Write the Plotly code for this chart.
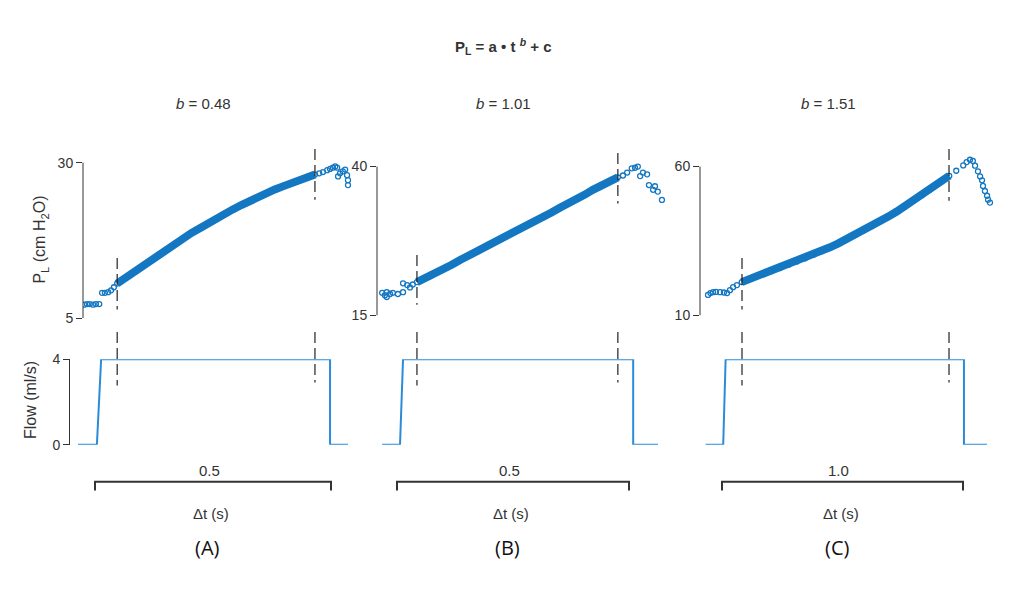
import plotly.graph_objects as go

W, H = 1011, 591

# ---------------- data ----------------
# Panel A (b = 0.48): time (s) and P_L (cm H2O)
a_pre_t = [-0.023, -0.017, -0.011, -0.004, 0.002, 0.009, 0.015, 0.021, 0.028, 0.034, 0.040]
a_pre_p = [7.2, 7.3, 7.3, 7.2, 7.3, 7.3, 9.1, 9.1, 9.2, 9.5, 10.0]
a_fit_t = [0.047, 0.064, 0.081, 0.099, 0.117, 0.135, 0.153, 0.170, 0.186, 0.204, 0.223, 0.240,
           0.259, 0.276, 0.292, 0.310, 0.328, 0.346, 0.364, 0.381, 0.398, 0.416, 0.434, 0.450, 0.466]
a_fit_p = [10.6, 11.5, 12.4, 13.3, 14.2, 15.2, 16.1, 17.0, 17.8, 18.7, 19.5, 20.3,
           21.1, 21.8, 22.5, 23.2, 23.9, 24.5, 25.1, 25.7, 26.2, 26.7, 27.2, 27.7, 28.1]
a_post_t = [0.475, 0.483, 0.492, 0.498, 0.504, 0.509, 0.513, 0.515, 0.519, 0.525, 0.530, 0.534, 0.536, 0.536]
a_post_p = [28.3, 28.5, 28.8, 29.0, 29.2, 29.4, 29.2, 27.8, 28.3, 28.6, 28.9, 28.0, 27.2, 26.4]

# Panel B (b = 1.01)
b_pre_t = [-0.032, -0.026, -0.022, -0.022, -0.015, -0.009, 0.002, 0.013, 0.013, 0.022, 0.028, 0.034]
b_pre_p = [18.8, 18.4, 18.9, 18.1, 18.6, 18.8, 18.6, 18.9, 20.4, 20.1, 19.7, 20.2]
b_fit_t = [0.043, 0.071, 0.099, 0.118, 0.136, 0.154, 0.172, 0.190, 0.207, 0.226, 0.244, 0.262,
           0.280, 0.298, 0.315, 0.333, 0.351, 0.370, 0.388, 0.405, 0.422, 0.440, 0.459, 0.476]
b_fit_p = [20.6, 21.6, 22.7, 23.5, 24.3, 25.0, 25.7, 26.5, 27.2, 27.9, 28.7, 29.4,
           30.2, 30.9, 31.6, 32.3, 33.1, 33.8, 34.6, 35.3, 36.1, 36.8, 37.6, 38.2]
b_post_t = [0.487, 0.496, 0.506, 0.513, 0.519, 0.524, 0.530, 0.539, 0.543, 0.552, 0.556, 0.562, 0.571]
b_post_p = [38.5, 39.0, 39.7, 39.8, 40.0, 38.4, 39.0, 38.7, 36.9, 36.1, 36.7, 35.8, 34.4]

# Panel C (b = 1.51)
c_pre_t = [-0.058, -0.048, -0.037, -0.025, -0.008, 0.008, 0.021, 0.033, 0.046, 0.062]
c_pre_p = [16.9, 17.5, 17.8, 17.9, 17.8, 17.7, 17.5, 18.5, 19.5, 20.2]
c_fit_t = [0.082, 0.127, 0.171, 0.206, 0.241, 0.276, 0.310, 0.345, 0.379, 0.414, 0.448, 0.483,
           0.517, 0.552, 0.586, 0.621, 0.656, 0.690, 0.725, 0.760, 0.794, 0.829, 0.863, 0.903, 0.943]
c_fit_p = [21.2, 22.6, 23.9, 24.9, 25.9, 27.0, 28.1, 29.2, 30.4, 31.6, 32.9, 34.2,
           35.6, 37.0, 38.5, 40.0, 41.6, 43.2, 44.9, 46.7, 48.5, 50.4, 52.3, 54.6, 56.9]
c_post_t = [0.972, 1.001, 1.015, 1.029, 1.041, 1.050, 1.062, 1.071, 1.079, 1.083, 1.091, 1.100, 1.104, 1.112]
c_post_p = [58.6, 60.4, 61.5, 62.3, 61.9, 60.3, 58.4, 56.7, 55.4, 53.5, 51.8, 50.2, 48.9, 47.9]

# Flow traces (ml/s)
a_flow_t = [-0.036, 0.004, 0.013, 0.498, 0.498, 0.536]
b_flow_t = [-0.032, 0.0065, 0.013, 0.509, 0.509, 0.5625]
c_flow_t = [-0.068, 0.005, 0.015, 1.004, 1.004, 1.100]
flow_v = [0, 0, 4, 4, 0, 0]

# Fit window boundaries (s)
fit_windows = [(0.047, 0.466), (0.043, 0.476), (0.083, 0.942)]
# Time scale bars
scale_len = [0.5, 0.5, 1.0]
scale_lbl = ["0.5", "0.5", "1.0"]
b_values = ["0.48", "1.01", "1.51"]
panel_lbl = ["(A)", "(B)", "(C)"]
p_ticks = [[5, 30], [15, 40], [10, 60]]
flow_ticks = [0, 4]

# ---------------- styling ----------------
BLUE = "#1477c2"
FLOW = "#2b8bd8"
INK = "#333333"
FONT = "Liberation Sans, Arial, sans-serif"


def px(x):
    return x / W


def py(y):
    return 1 - y / H


fig = go.Figure()

panels = [
    (a_pre_t, a_pre_p, a_fit_t, a_fit_p, a_post_t, a_post_p, a_flow_t),
    (b_pre_t, b_pre_p, b_fit_t, b_fit_p, b_post_t, b_post_p, b_flow_t),
    (c_pre_t, c_pre_p, c_fit_t, c_fit_p, c_post_t, c_post_p, c_flow_t),
]

mk = dict(symbol="circle-open", size=5, color=BLUE, line=dict(width=1.3, color=BLUE))

for i, (pt, pp, ft, fp, ot, op, flt) in enumerate(panels):
    xa, ya = f"x{i+1}", f"y{i+1}"
    xf, yf = f"x{i+4}", f"y{i+4}"
    fig.add_trace(go.Scatter(x=ft, y=fp, mode="lines", line=dict(color=BLUE, width=8),
                             xaxis=xa, yaxis=ya, hoverinfo="skip"))
    for tt, pp_ in ((pt, pp), (ft, fp), (ot, op)):
        fig.add_trace(go.Scatter(x=tt, y=pp_, mode="markers", marker=mk,
                                 xaxis=xa, yaxis=ya))
    fig.add_trace(go.Scatter(x=flt, y=flow_v, mode="lines", line=dict(color=FLOW, width=2),
                             xaxis=xf, yaxis=yf, cliponaxis=False))

# axis geometry in pixels: (left, right, top-of-axis-line, bottom, headroom in data units)
top_geom = [(83, 355, 159, 319, 3.0), (377, 670, 163, 316, 3.0), (700, 1000, 163, 316, 6.0)]
t0_px = [95, 397, 722]
px_per_s = [472, 464, 241]
flow_left = [70, 377, 700]
flow_y = (361, 449)

layout = dict(width=W, height=H, margin=dict(l=0, r=0, t=0, b=0),
              paper_bgcolor="white", plot_bgcolor="white", showlegend=False,
              font=dict(family=FONT, color=INK))

shapes = []
for i, (x0, x1, y0, y1, head) in enumerate(top_geom):
    yr = p_ticks[i]
    ppu = (y1 - y0) / (yr[1] - yr[0])
    ytop_px = y0 - head * ppu
    rng = [(x0 - t0_px[i]) / px_per_s[i], (x1 - t0_px[i]) / px_per_s[i]]
    layout[f"xaxis{i+1}"] = dict(domain=[px(x0), px(x1)], range=rng, visible=False,
                                 anchor=f"y{i+1}")
    layout[f"yaxis{i+1}"] = dict(domain=[py(y1), py(ytop_px)], range=[yr[0], yr[1] + head],
                                 anchor=f"x{i+1}", tickvals=yr, ticks="outside", ticklen=6,
                                 tickcolor=INK, showline=False,
                                 showgrid=False, zeroline=False,
                                 tickfont=dict(size=14, color=INK, family=FONT))
    # visible axis line only between the two ticks
    shapes.append(dict(type="line", xref="paper", yref=f"y{i+1}", x0=px(x0), x1=px(x0),
                       y0=yr[0], y1=yr[1], line=dict(color=INK, width=1)))
    fx0 = flow_left[i]
    frng = [(fx0 - t0_px[i]) / px_per_s[i], rng[1]]
    layout[f"xaxis{i+4}"] = dict(domain=[px(fx0), px(x1)], range=frng, visible=False,
                                 anchor=f"y{i+4}")
    ydict = dict(domain=[py(flow_y[1]), py(flow_y[0])], range=[0, 4], anchor=f"x{i+4}",
                 showgrid=False, zeroline=False)
    if i == 0:
        ydict.update(tickvals=flow_ticks, ticks="outside", ticklen=6, tickcolor=INK,
                     showline=True, linecolor=INK, linewidth=1,
                     tickfont=dict(size=14, color=INK, family=FONT))
    else:
        ydict.update(visible=False)
    layout[f"yaxis{i+4}"] = ydict

fig.update_layout(**layout)

annotations = []
dash_top = [((257, 310), (145, 197)), ((254, 305), (149, 201)), ((257, 310), (145, 198))]
dash_bot = ((333, 388), (333, 385))
dash_style = dict(color="#222222", width=1.2, dash="11px,5px")
for i, (ts, te) in enumerate(fit_windows):
    for t, (ya, yb) in zip((ts, te), dash_top[i]):
        shapes.append(dict(type="line", xref=f"x{i+1}", yref="paper", x0=t, x1=t,
                           y0=py(ya), y1=py(yb), line=dash_style))
    for t, (ya, yb) in zip((ts, te), dash_bot):
        shapes.append(dict(type="line", xref=f"x{i+4}", yref="paper", x0=t, x1=t,
                           y0=py(ya), y1=py(yb), line=dash_style))
    L = scale_len[i]
    shapes.append(dict(type="path", xref=f"x{i+4}", yref="paper",
                       path=f"M 0,{py(496)} L 0,{py(487)} L {L},{py(487)} L {L},{py(496)}",
                       line=dict(color=INK, width=2)))
    annotations.append(dict(xref=f"x{i+4}", yref="paper", x=L / 2, y=py(475), text=scale_lbl[i],
                            showarrow=False, xanchor="center", yanchor="middle", xshift=-4,
                            font=dict(size=15, color=INK)))
    annotations.append(dict(xref=f"x{i+4}", yref="paper", x=L / 2, y=py(520), text="Δt (s)",
                            showarrow=False, xanchor="center", yanchor="middle", xshift=-2,
                            font=dict(size=15, color=INK)))
    annotations.append(dict(xref=f"x{i+4}", yref="paper", x=L / 2, y=py(555),
                            text=panel_lbl[i], showarrow=False, xanchor="center", yanchor="middle",
                            xshift=-6,
                            font=dict(size=20, color="#111", family="Open Sans, sans-serif")))

title_x = [203, 503, 828]
for i in range(3):
    annotations.append(dict(xref="paper", yref="paper", x=px(title_x[i]), y=py(98),
                            text=f"<i>b</i> = {b_values[i]}", showarrow=False,
                            xanchor="center", yanchor="middle",
                            font=dict(size=15, color=INK)))

annotations.append(dict(xref="paper", yref="paper", x=px(503), y=py(40),
                        text="<b>P<sub>L</sub> = a • t <sup><i>b</i></sup> + c</b>",
                        showarrow=False, xanchor="center", yanchor="middle",
                        font=dict(size=15, color=INK)))
annotations.append(dict(xref="paper", yref="paper", x=px(41), y=py(238),
                        text="P<sub>L</sub> (cm H<sub>2</sub>O)", textangle=-90,
                        showarrow=False, xanchor="center", yanchor="middle",
                        font=dict(size=16, color=INK)))
annotations.append(dict(xref="paper", yref="paper", x=px(30), y=py(403),
                        text="Flow (ml/s)", textangle=-90,
                        showarrow=False, xanchor="center", yanchor="middle",
                        font=dict(size=16, color=INK)))

fig.update_layout(shapes=shapes, annotations=annotations)
fig.write_html("out.html")
